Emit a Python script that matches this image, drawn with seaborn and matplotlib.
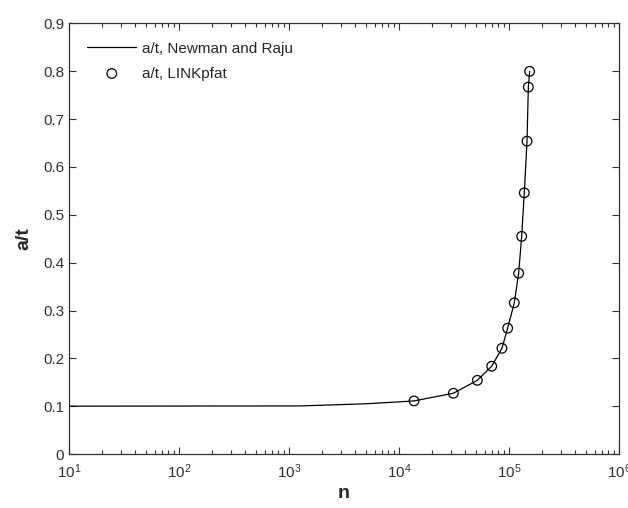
import matplotlib
matplotlib.use("Agg")
import matplotlib.pyplot as plt
import seaborn as sns
import pandas as pd
from matplotlib.ticker import LogLocator, NullFormatter, FixedLocator, FixedFormatter

# Crack depth ratio a/t versus number of cycles n
line_n = [10, 1260, 5000, 8500, 13700, 31200, 51500, 69600, 86300, 97200,
          111700, 122400, 130400, 137700, 145800, 149900, 154000]
line_at = [0.100, 0.1005, 0.105, 0.108, 0.111, 0.127, 0.154, 0.1835, 0.221, 0.263,
           0.316, 0.378, 0.455, 0.546, 0.654, 0.767, 0.800]

pts_n = [13700, 31200, 51500, 69600, 86300, 97200, 111700, 122400, 130400,
         137700, 145800, 149900, 154000]
pts_at = [0.111, 0.127, 0.154, 0.1835, 0.221, 0.263, 0.316, 0.378, 0.455,
          0.546, 0.654, 0.767, 0.800]

y_ticks = [0, 0.1, 0.2, 0.3, 0.4, 0.5, 0.6, 0.7, 0.8, 0.9]
y_labels = ["0", "0.1", "0.2", "0.3", "0.4", "0.5", "0.6", "0.7", "0.8", "0.9"]
x_ticks = [1e1, 1e2, 1e3, 1e4, 1e5, 1e6]
x_labels = [r"$10^{1}$", r"$10^{2}$", r"$10^{3}$", r"$10^{4}$", r"$10^{5}$", r"$10^{6}$"]

line_df = pd.DataFrame({"n": line_n, "a/t": line_at})
pts_df = pd.DataFrame({"n": pts_n, "a/t": pts_at})

sns.set_style("ticks")
plt.rcParams["font.family"] = ["Liberation Sans", "DejaVu Sans"]
plt.rcParams["mathtext.fontset"] = "custom"
plt.rcParams["mathtext.rm"] = "Liberation Sans"
plt.rcParams["mathtext.it"] = "Liberation Sans"

fig = plt.figure(figsize=(6.28, 5.08), dpi=100)
ax = fig.add_axes([69 / 628, 1 - 454 / 508, 550 / 628, 430.5 / 508])

sns.lineplot(data=line_df, x="n", y="a/t", ax=ax, color="black", lw=0.9,
             label="a/t, Newman and Raju", estimator=None, sort=False)
sns.scatterplot(data=pts_df, x="n", y="a/t", ax=ax, marker="o", s=48,
                facecolor="none", edgecolor="black", linewidth=0.9,
                label="a/t, LINKpfat", zorder=3)

ax.set_xscale("log")
ax.set_xlim(10, 1e6)
ax.set_ylim(0, 0.9)
ax.yaxis.set_major_locator(FixedLocator(y_ticks))
ax.yaxis.set_major_formatter(FixedFormatter(y_labels))
ax.xaxis.set_major_locator(FixedLocator(x_ticks))
ax.xaxis.set_major_formatter(FixedFormatter(x_labels))
ax.xaxis.set_minor_locator(LogLocator(base=10, subs=range(2, 10), numticks=20))
ax.xaxis.set_minor_formatter(NullFormatter())

for s in ax.spines.values():
    s.set_visible(True)
    s.set_color("#303030")
    s.set_linewidth(0.9)
ax.tick_params(which="both", direction="in", top=True, right=True,
               colors="#303030", labelcolor="#303030", labelsize=11)
ax.tick_params(which="major", length=5, width=0.8)
ax.tick_params(which="minor", length=3, width=0.8)
ax.tick_params(axis="x", which="major", pad=6)

ax.set_xlabel("n", fontsize=14, fontweight="bold", labelpad=3)
ax.set_ylabel("a/t", fontsize=14, fontweight="bold", labelpad=8)

leg = ax.legend(loc="upper left", frameon=False, fontsize=11,
                handlelength=3.2, handletextpad=0.35, borderaxespad=0.8,
                labelspacing=0.7)

fig.savefig("out.png", dpi=100)
